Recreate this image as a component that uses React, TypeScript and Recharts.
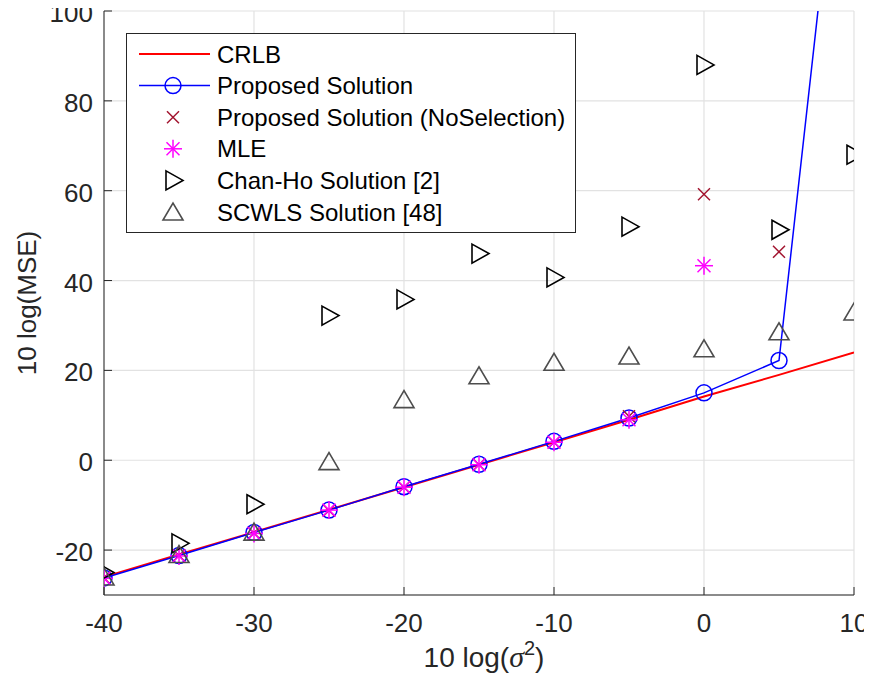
import React from 'react';
import { ComposedChart, Line, XAxis, YAxis, CartesianGrid, Legend } from 'recharts';

// ---- data ----
const SIGMA_DB = [-40, -35, -30, -25, -20, -15, -10, -5, 0, 5, 10];
const CRLB = [-26, -21, -16, -11, -6, -1, 4, 9, 14.2, 19, 24];
const PROPOSED = [-26.2, -21.2, -16.1, -11.1, -5.9, -0.9, 4.2, 9.4, 15, 22.2, 172];
const PROPOSED_NOSEL = [-26.2, -21.2, -16.2, -11.2, -6, -1, 4, 9.8, 59.2, 46.4, null];
const MLE = [-26.3, -21.3, -16.3, -11.1, -6, -1, 4, 9, 43.3, null, null];
const CHAN_HO = [-25, -18.5, -9.8, 32.2, 35.8, 46, 40.7, 52, 88, 51.3, 68];
const SCWLS = [-26, -21, -16, -0.3, 13.5, 18.8, 21.8, 23.2, 24.8, 28.6, 33];

const X_TICKS = [-40, -30, -20, -10, 0, 10];
const Y_TICKS = [-20, 0, 20, 40, 60, 80, 100];
const X_DOMAIN = [-40, 10];
const Y_DOMAIN = [-30, 100];

const LEGEND_NAMES = [
  'CRLB',
  'Proposed Solution',
  'Proposed Solution (NoSelection)',
  'MLE',
  'Chan-Ho Solution [2]',
  'SCWLS Solution [48]',
];

const data = SIGMA_DB.map((x, i) => ({
  x,
  crlb: CRLB[i],
  prop: PROPOSED[i],
  nosel: PROPOSED_NOSEL[i],
  mle: MLE[i],
  chan: CHAN_HO[i],
  scwls: SCWLS[i],
}));

// ---- styles ----
const FONT = '"Liberation Sans", Arial, Helvetica, sans-serif';
const AXIS_COLOR = '#262626';
const C_RED = '#ff0000';
const C_BLUE = '#0000ff';
const C_XMARK = '#a2142f';
const C_MAG = '#ff00ff';
const C_BLACK = '#000000';
const C_GRAY = '#4d4d4d';
const TICK_LEN = 8;
const TICK_FONT = 26;

// ---- marker shapes ----
const CircleM = ({ cx, cy }) => (
  <circle cx={cx} cy={cy} r={8} fill="none" stroke={C_BLUE} strokeWidth={1.5} />
);
const CrossM = ({ cx, cy }) => (
  <g stroke={C_XMARK} strokeWidth={1.5}>
    <line x1={cx - 6} y1={cy - 6} x2={cx + 6} y2={cy + 6} />
    <line x1={cx - 6} y1={cy + 6} x2={cx + 6} y2={cy - 6} />
  </g>
);
const StarM = ({ cx, cy }) => (
  <g stroke={C_MAG} strokeWidth={1.5}>
    <line x1={cx - 9} y1={cy} x2={cx + 9} y2={cy} />
    <line x1={cx} y1={cy - 9} x2={cx} y2={cy + 9} />
    <line x1={cx - 6.5} y1={cy - 6.5} x2={cx + 6.5} y2={cy + 6.5} />
    <line x1={cx - 6.5} y1={cy + 6.5} x2={cx + 6.5} y2={cy - 6.5} />
  </g>
);
const TriRightM = ({ cx, cy }) => (
  <polygon
    points={`${cx - 7},${cy - 9.5} ${cx + 10},${cy} ${cx - 7},${cy + 9.5}`}
    fill="none"
    stroke={C_BLACK}
    strokeWidth={1.6}
  />
);
const TriUpM = ({ cx, cy }) => (
  <polygon
    points={`${cx - 10},${cy + 8} ${cx + 10},${cy + 8} ${cx},${cy - 9}`}
    fill="none"
    stroke={C_GRAY}
    strokeWidth={1.6}
  />
);

const makeDot = (Shape, name) => (props) => {
  const { cx, cy, index, value } = props;
  if (cx == null || cy == null || value == null || Number.isNaN(cy)) {
    return <g key={`${name}-${index}`} />;
  }
  return (
    <g key={`${name}-${index}`}>
      <Shape cx={cx} cy={cy} />
    </g>
  );
};

// ---- axis ticks (inward, MATLAB style) ----
const BottomTick = (props) => {
  const { x, y, payload } = props;
  return (
    <g>
      <line x1={x} x2={x} y1={y} y2={y - TICK_LEN} stroke={AXIS_COLOR} strokeWidth={1} />
      <text x={x} y={y + 37} textAnchor="middle" fontFamily={FONT} fontSize={TICK_FONT} fill={AXIS_COLOR}>
        {payload.value}
      </text>
    </g>
  );
};
const LeftTick = (props) => {
  const { x, y, payload } = props;
  return (
    <g>
      <line x1={x} x2={x + TICK_LEN} y1={y} y2={y} stroke={AXIS_COLOR} strokeWidth={1} />
      <text x={x - 11} y={y + 11} textAnchor="end" fontFamily={FONT} fontSize={TICK_FONT} fill={AXIS_COLOR}>
        {payload.value}
      </text>
    </g>
  );
};
const TopTick = (props) => {
  const { x, y } = props;
  return <line x1={x} x2={x} y1={y} y2={y + TICK_LEN} stroke={AXIS_COLOR} strokeWidth={1} />;
};
const RightTick = (props) => {
  const { x, y } = props;
  return <line x1={x} x2={x - TICK_LEN} y1={y} y2={y} stroke={AXIS_COLOR} strokeWidth={1} />;
};

const XLabel = ({ viewBox }) => {
  const cx = viewBox.x + viewBox.width / 2 + 5;
  const by = viewBox.y + 72;
  return (
    <text x={cx} y={by} textAnchor="middle" fontFamily={FONT} fontSize={28} fill={AXIS_COLOR}>
      <tspan>10 log(</tspan>
      <tspan fontStyle="italic" fontSize={30} fontFamily='"Liberation Serif", "DejaVu Serif", serif'>σ</tspan>
      <tspan fontSize={20} dy={-12}>2</tspan>
      <tspan dy={12}>)</tspan>
    </text>
  );
};
const YLabel = ({ viewBox }) => {
  const cx = viewBox.x + 27;
  const cy = viewBox.y + viewBox.height / 2;
  return (
    <text
      x={cx}
      y={cy}
      transform={`rotate(-90 ${cx} ${cy})`}
      textAnchor="middle"
      dominantBaseline="central"
      fontFamily={FONT}
      fontSize={26}
      fill={AXIS_COLOR}
    >
      10 log(MSE)
    </text>
  );
};

// ---- legend ----
const LEGEND_SHAPES = [null, CircleM, CrossM, StarM, TriRightM, TriUpM];
const LEGEND_LINES = [C_RED, C_BLUE, null, null, null, null];
const LEGEND_LINE_W = [2, 1.5, 0, 0, 0, 0];

const LegendBox = () => {
  const W = 450;
  const H = 200;
  const rowY = (i) => 21 + i * 31.6;
  return (
    <svg width={W} height={H} style={{ display: 'block' }}>
      <rect x={0.5} y={0.5} width={W - 1} height={H - 1} fill="#ffffff" stroke={AXIS_COLOR} strokeWidth={1} />
      {LEGEND_NAMES.map((name, i) => {
        const y = rowY(i);
        const Shape = LEGEND_SHAPES[i];
        return (
          <g key={name}>
            {LEGEND_LINES[i] && (
              <line x1={13} x2={84} y1={y} y2={y} stroke={LEGEND_LINES[i]} strokeWidth={LEGEND_LINE_W[i]} />
            )}
            {Shape && <Shape cx={47} cy={y} />}
            <text x={91} y={y + 8.5} fontFamily={FONT} fontSize={24} fill="#000000">
              {name}
            </text>
          </g>
        );
      })}
    </svg>
  );
};

export default function App() {
  return (
    <div style={{ margin: -8, width: 872, height: 685, background: '#ffffff' }}>
      <ComposedChart
        width={872}
        height={685}
        data={data}
        margin={{ top: 11, right: 18, left: 0, bottom: 0 }}
        style={{ background: '#ffffff' }}
      >
        <CartesianGrid stroke="#e2e2e2" strokeWidth={1.2} />
        <XAxis
          dataKey="x"
          type="number"
          domain={X_DOMAIN}
          ticks={X_TICKS}
          allowDataOverflow
          height={90}
          tickSize={0}
          tickMargin={0}
          tickLine={false}
          tick={<BottomTick />}
          axisLine={{ stroke: AXIS_COLOR, strokeWidth: 1 }}
          label={<XLabel />}
        />
        <XAxis
          xAxisId="top"
          orientation="top"
          dataKey="x"
          type="number"
          domain={X_DOMAIN}
          ticks={X_TICKS}
          allowDataOverflow
          height={0}
          tickSize={0}
          tickMargin={0}
          tickLine={false}
          tick={<TopTick />}
          axisLine={{ stroke: AXIS_COLOR, strokeWidth: 1 }}
        />
        <YAxis
          type="number"
          domain={Y_DOMAIN}
          ticks={Y_TICKS}
          allowDataOverflow
          width={104}
          tickSize={0}
          tickMargin={0}
          tickLine={false}
          tick={<LeftTick />}
          axisLine={{ stroke: AXIS_COLOR, strokeWidth: 1 }}
          label={<YLabel />}
        />
        <YAxis
          yAxisId="right"
          orientation="right"
          type="number"
          domain={Y_DOMAIN}
          ticks={Y_TICKS}
          allowDataOverflow
          width={0}
          tickSize={0}
          tickMargin={0}
          tickLine={false}
          tick={<RightTick />}
          axisLine={{ stroke: AXIS_COLOR, strokeWidth: 1 }}
        />
        <Legend
          layout="vertical"
          align="center"
          verticalAlign="middle"
          content={() => <LegendBox />}
          wrapperStyle={{ left: 126, top: 33, right: 'auto', bottom: 'auto', width: 450, height: 200 }}
        />
        <Line
          dataKey="crlb"
          stroke={C_RED}
          strokeWidth={2}
          dot={false}
          activeDot={false}
          isAnimationActive={false}
        />
        <Line
          dataKey="prop"
          stroke={C_BLUE}
          strokeWidth={1.5}
          dot={makeDot(CircleM, 'prop')}
          activeDot={false}
          isAnimationActive={false}
        />
        <Line
          dataKey="nosel"
          stroke="none"
          strokeWidth={0}
          dot={makeDot(CrossM, 'nosel')}
          activeDot={false}
          isAnimationActive={false}
        />
        <Line
          dataKey="mle"
          stroke="none"
          strokeWidth={0}
          dot={makeDot(StarM, 'mle')}
          activeDot={false}
          isAnimationActive={false}
        />
        <Line
          dataKey="chan"
          stroke="none"
          strokeWidth={0}
          dot={makeDot(TriRightM, 'chan')}
          activeDot={false}
          isAnimationActive={false}
        />
        <Line
          dataKey="scwls"
          stroke="none"
          strokeWidth={0}
          dot={makeDot(TriUpM, 'scwls')}
          activeDot={false}
          isAnimationActive={false}
        />
      </ComposedChart>
    </div>
  );
}
